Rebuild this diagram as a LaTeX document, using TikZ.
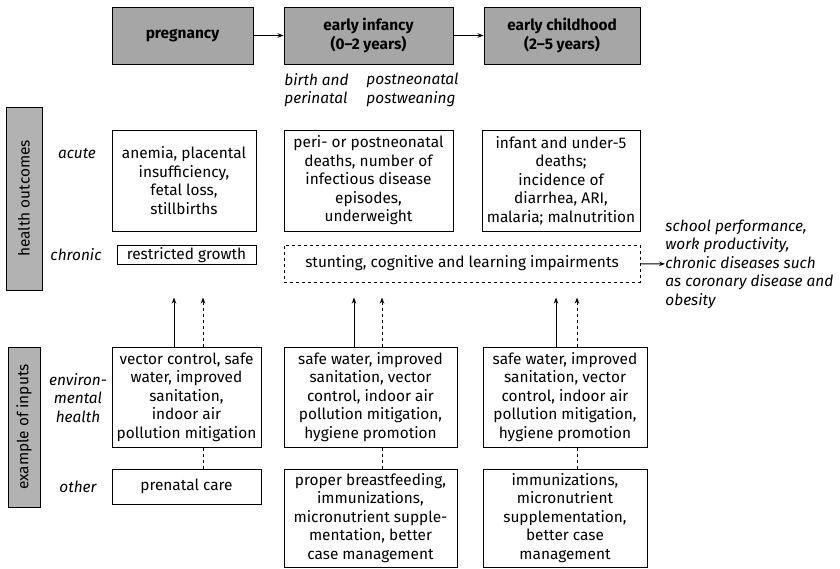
\documentclass[tikz,border=0pt]{standalone}
\usepackage{fontspec}
\setmainfont{Fira Sans}
\usetikzlibrary{arrows.meta}

\tikzset{
  stage/.style={draw, fill=black!35, font=\bfseries, align=center, inner sep=0pt, minimum height=57},
  cell/.style={draw, align=center, inner sep=0pt},
  side/.style={draw, fill=black!30, rotate=90, inner sep=0pt},
  rowlabel/.style={font=\itshape, align=center, inner sep=0pt},
  note/.style={font=\itshape, align=left, inner sep=0pt}
}

\begin{document}
\fontsize{15.4}{18.5}\selectfont
\begin{tikzpicture}[x=1pt, y=-1pt, line width=0.9pt, >={Stealth[length=6pt,width=4.5pt]}]
                \useasboundingbox (0,0) rectangle (840,568);

                % stages
                \node[stage, minimum width=141] (preg) at (182.5,35.5) {pregnancy};
                \node[stage, minimum width=169] (infancy) at (368.5,35.5) {early infancy\\(0–2 years)};
                \node[stage, minimum width=156] (childhood) at (562,35.5) {early childhood\\(2–5 years)};
                \draw[->] (preg) -- (infancy);
                \draw[->] (infancy) -- (childhood);

                \node[note, anchor=west] (birth) at (284,90) {birth and\\perinatal};
                \node[note, anchor=west] (postneo) at (366,90) {postneonatal\\postweaning};

                % health outcomes
                \node[side, minimum width=183, minimum height=36] (health) at (24,198.5) {health outcomes};
                \node[rowlabel] (acute) at (77,154) {acute};
                \node[rowlabel] (chronic) at (76,255) {chronic};

                \node[cell, minimum width=144, minimum height=101] (pregAcute) at (184,180.5)
                    {anemia, placental\\insufficiency,\\fetal loss,\\stillbirths};
                \node[cell, minimum width=169, minimum height=101] (infAcute) at (368.5,180.5)
                    {peri- or postneonatal\\deaths, number of\\infectious disease\\episodes,\\underweight};
                \node[cell, minimum width=158, minimum height=101] (childAcute) at (561,180.5)
                    {infant and under-5\\deaths;\\incidence of\\diarrhea, ARI,\\malaria; malnutrition};

                \node[cell, minimum width=139, minimum height=19] (growth) at (186.5,255) {restricted growth};
                \node[cell, dashed, minimum width=356, minimum height=37] (stunt) at (462,263.5)
                    {stunting, cognitive and learning impairments};
                \node[note, anchor=west] (later) at (665,264)
                    {school performance,\\work productivity,\\chronic diseases such\\as coronary disease and\\obesity};
                \draw[->] (stunt) -- (later);

                % example of inputs
                \node[side, minimum width=160, minimum height=32] (inputs) at (24,427) {example of inputs};
                \node[rowlabel] (envhealth) at (78,398) {environ-\\mental\\health};
                \node[rowlabel] (other) at (78,487) {other};

                \node[cell, minimum width=149, minimum height=100] (pregEnv) at (186.5,397)
                    {vector control, safe\\water, improved\\sanitation,\\indoor air\\pollution mitigation};
                \node[cell, minimum width=173, minimum height=100] (infEnv) at (370.5,397)
                    {safe water, improved\\sanitation, vector\\control, indoor air\\pollution mitigation,\\hygiene promotion};
                \node[cell, minimum width=164, minimum height=100] (childEnv) at (565,397)
                    {safe water, improved\\sanitation, vector\\control, indoor air\\pollution mitigation,\\hygiene promotion};

                \node[cell, minimum width=149, minimum height=35] (pregOther) at (186.5,486.5) {prenatal care};
                \node[cell, minimum width=173, minimum height=98] (infOther) at (370.5,518)
                    {proper breastfeeding,\\immunizations,\\micronutrient supple-\\mentation, better\\case management};
                \node[cell, minimum width=164, minimum height=98] (childOther) at (565,518)
                    {immunizations,\\micronutrient\\supplementation,\\better case\\management};

                % inputs feeding the outcomes
                \draw[->] ([xshift=-12.5]pregEnv.north) -- ++(0,-49);
                \draw[->, dashed] ([xshift=16.5]pregEnv.north) -- ++(0,-49);
                \draw[->] ([xshift=-16.5]infEnv.north) -- ++(0,-49);
                \draw[->, dashed] ([xshift=11.5]infEnv.north) -- ++(0,-49);
                \draw[->] ([xshift=-9]childEnv.north) -- ++(0,-49);
                \draw[->, dashed] ([xshift=12]childEnv.north) -- ++(0,-49);

                \draw[dashed] ([xshift=16.5]pregOther.north) -- ([xshift=16.5]pregEnv.south);
                \draw[dashed] ([xshift=11.5]infOther.north) -- ([xshift=11.5]infEnv.south);
                \draw[dashed] ([xshift=12]childOther.north) -- ([xshift=12]childEnv.south);
            \end{tikzpicture}
\end{document}
